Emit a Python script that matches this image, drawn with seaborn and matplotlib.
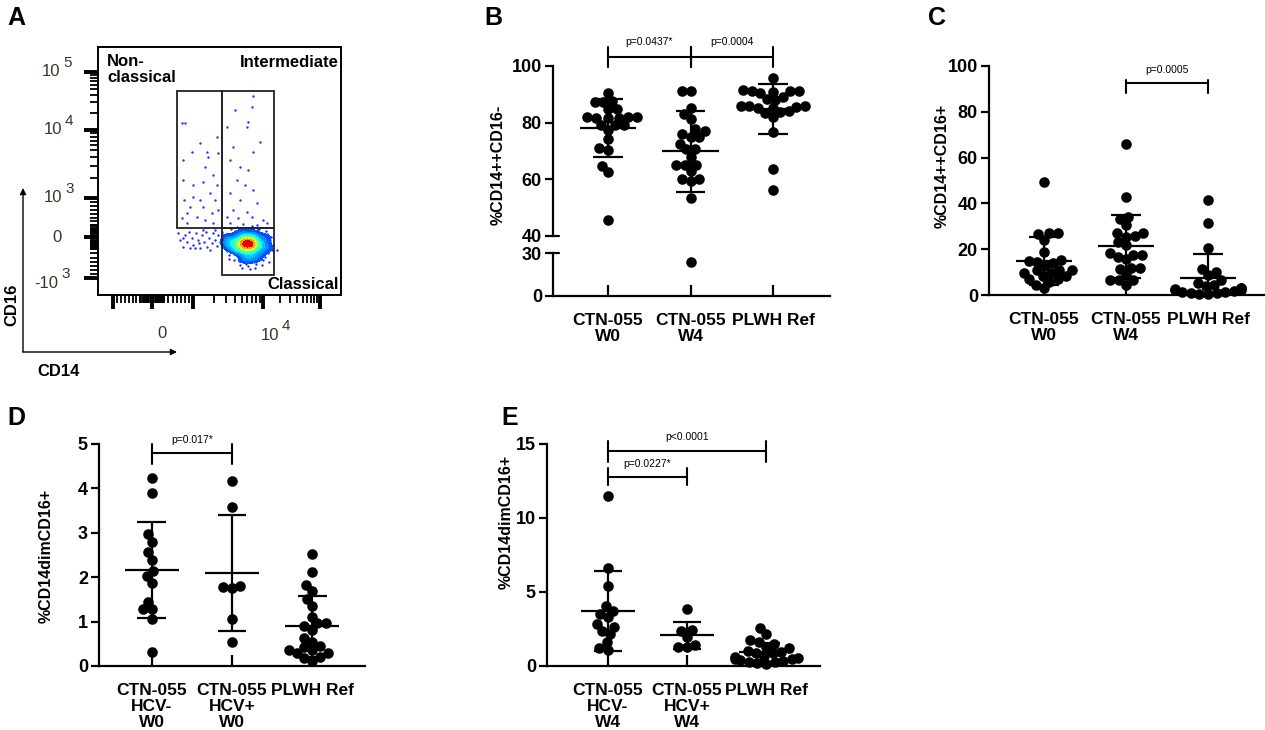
# monocyte subset figure: flow gate (A) and four dot plots with mean +/- SD (B-E)

import numpy as np
import pandas as pd
import matplotlib
matplotlib.use('Agg')
from matplotlib import pyplot as plt
from matplotlib import transforms
from matplotlib.patches import Rectangle
from matplotlib.colors import ListedColormap
import seaborn as sns

W, H = 1265, 730

# --- data ---
groups_bc = ['CTN-055\nW0', 'CTN-055\nW4', 'PLWH Ref']
groups_d = ['CTN-055\nHCV-\nW0', 'CTN-055\nHCV+\nW0', 'PLWH Ref']
groups_e = ['CTN-055\nHCV-\nW4', 'CTN-055\nHCV+\nW4', 'PLWH Ref']

# B: %CD14++CD16-
b_w0 = [90.4, 87.2, 87.2, 87.6, 84.8, 84.7, 82.0, 81.5, 82.0, 81.8, 81.5, 82.0,
        79.2, 79.0, 79.3, 77.4, 74.1, 71.0, 70.5, 64.7, 62.7, 45.6]
b_w4 = [91.2, 91.2, 85.3, 83.1, 81.3, 77.6, 77.1, 75.0, 75.0, 75.9, 72.4, 70.6,
        70.6, 68.0, 65.1, 65.1, 65.1, 62.9, 60.0, 60.0, 59.4, 53.3, 23.5]
b_ref = [95.7, 91.5, 91.0, 90.8, 91.2, 90.5, 91.0, 89.0, 88.5, 88.0, 86.0, 85.5,
         85.8, 85.2, 85.0, 86.0, 83.8, 83.5, 84.0, 82.1, 76.8, 63.6, 56.2]

# C: %CD14++CD16+
c_w0 = [49.5, 26.9, 26.9, 26.5, 24.0, 18.6, 15.0, 15.3, 14.6, 13.8, 12.5, 10.9,
        10.9, 10.9, 9.5, 9.5, 8.3, 8.3, 6.8, 6.8, 4.4, 5.8, 2.9]
c_w4 = [65.8, 42.9, 33.0, 34.2, 30.4, 26.9, 26.9, 25.5, 25.8, 21.8, 23.3, 18.2,
        17.5, 17.5, 15.6, 16.7, 11.2, 11.9, 11.6, 8.7, 6.6, 6.6, 6.6, 4.4]
c_ref = [41.5, 31.6, 20.4, 11.2, 10.0, 8.7, 6.5, 5.2, 4.5, 3.8, 3.0, 3.0, 2.5,
         2.2, 2.0, 1.8, 1.5, 1.2, 1.0, 0.5, 0.8, 0.3]

# D: %CD14dimCD16+ at W0
d_neg = [4.23, 3.89, 2.97, 2.80, 2.56, 2.39, 2.15, 2.03, 1.88, 1.45, 1.28, 1.28, 1.06, 0.32]
d_pos = [4.17, 3.57, 1.79, 1.81, 1.76, 1.05, 0.55]
d_ref = [2.52, 2.11, 1.82, 1.69, 1.51, 1.36, 1.11, 0.96, 0.89, 0.96, 0.81, 0.62,
         0.55, 0.36, 0.42, 0.36, 0.45, 0.17, 0.21, 0.29, 0.29, 0.12]

# E: %CD14dimCD16+ at W4
e_neg = [11.5, 6.64, 5.43, 4.08, 3.74, 3.51, 3.29, 2.84, 2.39, 2.66, 2.16, 1.64, 1.08, 1.19]
e_pos = [3.83, 2.43, 2.36, 1.98, 1.26, 1.42, 1.26]
e_ref = [2.55, 2.16, 1.76, 1.60, 1.50, 1.30, 1.20, 1.00, 0.95, 0.90, 0.85, 0.70,
         0.60, 0.55, 0.50, 0.45, 0.40, 0.35, 0.30, 0.25, 0.20, 0.15]

# A: flow events in display channels (CD14 on x, CD16 on y)
sparse_cd14 = [83.7, 87.0, 84.7, 84.7, 86.3, 88.7, 93.7, 95.3, 102.0, 104.7, 107.0, 108.7,
               110.3, 112.0, 115.3, 117.0, 118.7, 120.3, 120.3, 102.0, 92.0, 98.7, 107.0,
               115.3, 88.7, 83.7, 95.3, 105.3, 113.7, 118.7,
               155.3, 137.0, 153.7, 128.7, 150.3, 148.7, 135.3, 162.0, 155.3, 132.0, 142.0,
               150.3, 138.7, 146.7, 155.3, 132.0, 142.0, 158.7, 135.3, 148.7, 128.7, 140.3,
               153.7, 165.3, 132.0, 145.3, 158.7, 168.7,
               80.3, 82.0, 84.7, 87.0, 88.7, 91.3, 93.7, 95.3, 98.0, 100.3, 102.0, 103.7,
               106.0, 108.0, 109.3, 111.3, 113.7, 115.3, 117.0, 118.7, 120.3, 122.0, 123.7,
               84.7, 97.0, 112.0, 105.3, 92.0, 117.0, 101.3,
               128.0, 126.0, 131.0, 136.0, 142.0, 150.0, 158.0, 165.0, 170.0, 172.0, 168.0,
               160.0, 137.0, 129.0, 134.0, 163.0, 167.0, 140.0, 175.0, 127.0, 179.0, 157.0,
               125.0, 133.0, 139.0, 146.0, 154.0, 161.0, 169.0, 174.0, 171.0, 164.0, 152.0,
               144.0, 131.0, 127.0, 136.0, 166.0, 173.0, 148.0, 156.0, 141.0]
sparse_cd16 = [171.7, 172.3, 135.0, 115.0, 95.0, 81.7, 143.3, 110.0, 151.7, 113.3, 128.3, 143.3,
               138.3, 101.7, 120.0, 95.0, 158.3, 141.7, 85.0, 95.0, 88.3, 78.3, 75.0,
               71.7, 71.7, 76.7, 98.3, 88.3, 81.7, 110.0,
               199.0, 185.0, 188.3, 168.3, 173.3, 168.3, 148.3, 153.3, 143.3, 135.0, 128.3,
               125.0, 115.0, 110.0, 105.0, 101.7, 95.0, 91.7, 85.0, 83.3, 78.3, 76.7,
               78.3, 75.0, 71.7, 71.0, 70.0, 71.7,
               61.7, 55.0, 48.3, 60.0, 53.3, 63.3, 56.7, 50.0, 61.7, 55.0, 46.7, 60.0,
               53.3, 63.3, 48.3, 57.3, 51.7, 61.7, 55.3, 49.0, 60.0, 53.3, 63.3,
               57.3, 46.7, 45.0, 65.0, 46.7, 65.0, 51.7,
               60.0, 50.0, 40.0, 35.0, 30.0, 29.0, 31.0, 35.0, 42.0, 55.0, 64.0,
               66.0, 64.0, 44.0, 62.0, 61.0, 38.0, 38.0, 50.0, 57.0, 45.0, 27.0,
               54.0, 66.0, 68.0, 67.0, 69.0, 66.0, 61.0, 45.0, 33.0, 30.0, 26.0,
               27.0, 36.0, 47.0, 41.0, 48.0, 58.0, 31.0, 33.0, 34.0]
core_cd14 = [150, 148, 152, 146, 154, 149, 144, 156, 151, 147, 140, 160, 153, 142, 157,
             145, 135, 165, 150, 138, 162, 130, 168, 155, 143, 132, 158, 146, 128, 170,
             150, 149, 151, 148, 152]
core_cd16 = [52, 50, 49, 53, 54, 47, 50, 50, 56, 44, 52, 48, 43, 46, 57,
             58, 54, 52, 38, 45, 42, 58, 58, 62, 62, 48, 36, 35, 52, 47,
             52, 51, 50, 53, 52]

# --- style ---
sns.set_style('white')
plt.rcParams['font.family'] = ['Liberation Sans', 'DejaVu Sans']
plt.rcParams['font.weight'] = 'bold'
plt.rcParams['axes.linewidth'] = 1.6
plt.rcParams['axes.edgecolor'] = 'black'
plt.rcParams['text.color'] = 'black'
plt.rcParams['xtick.color'] = 'black'
plt.rcParams['ytick.color'] = 'black'

fig = plt.figure(figsize=(W / 100, H / 100), dpi=100)
swarms = []


def add_ax(x0, y0, x1, y1):
    return fig.add_axes([x0 / W, 1 - y1 / H, (x1 - x0) / W, (y1 - y0) / H])


def dot_panel(ax, values, labels, ylim, yticks, xlim, clip=False):
    names = [f'g{i}' for i in range(len(values))]
    df = pd.DataFrame({'grp': np.repeat(names, [len(v) for v in values]),
                       'val': np.concatenate(values)})
    n0 = len(ax.collections)
    sns.swarmplot(data=df, x='grp', y='val', order=names, color='black', size=5.6,
                  linewidth=0.4, edgecolor='black', warn_thresh=1,
                  ax=ax, zorder=3)
    for coll in ax.collections[n0:]:
        swarms.append(coll)
        if not clip:
            coll.set_clip_on(False)
    for i, v in enumerate(values):
        m, sd = np.mean(v), np.std(v, ddof=1)
        ax.hlines(m, i - 0.34, i + 0.34, color='black', lw=1.6, zorder=4)
        ax.vlines(i, m - sd, m + sd, color='black', lw=1.6, zorder=4)
        ax.hlines([m - sd, m + sd], i - 0.18, i + 0.18, color='black', lw=1.6, zorder=4)
    ax.set_ylim(*ylim)
    ax.set_yticks(yticks)
    ax.set_xlim(*xlim)
    ax.set_xticks(range(len(values)))
    ax.set_xticklabels(labels, fontsize=12.5, fontweight='bold', linespacing=1.1)
    ax.tick_params(axis='x', direction='in', length=8, width=1.6, pad=12, bottom=True)
    ax.tick_params(axis='y', direction='out', length=6, width=1.6, pad=2, left=True,
                   labelsize=13)
    sns.despine(ax=ax)
    ax.set_xlabel('')
    ax.set_ylabel('')
    ax.patch.set_alpha(0)


def bracket(ax, x0, x1, y, lo, hi, text, ty):
    kw = dict(color='black', lw=1.5, clip_on=False, zorder=5)
    ax.plot([x0, x1], [y, y], **kw)
    ax.plot([x0, x0], [lo, hi], **kw)
    ax.plot([x1, x1], [lo, hi], **kw)
    ax.text((x0 + x1) / 2, ty, text, ha='center', va='center', fontsize=7.5,
            fontweight='normal')


# --- B (broken axis) ---
b_vals = [b_w0, b_w4, b_ref]
ax_bu = add_ax(553, 66, 830, 236)
ax_bl = add_ax(553, 253, 830, 296)
dot_panel(ax_bu, b_vals, groups_bc, (40, 100), [40, 60, 80, 100], (-0.667, 2.69), clip=True)
dot_panel(ax_bl, b_vals, groups_bc, (0, 30), [0, 30], (-0.667, 2.69), clip=True)
ax_bu.spines['bottom'].set_visible(False)
ax_bu.tick_params(axis='x', bottom=False, labelbottom=False)
for a, yv in ((ax_bu, 40), (ax_bl, 30)):
    tr = transforms.blended_transform_factory(a.transAxes, a.transData)
    a.plot([0, 0.02], [yv, yv], color='black', lw=1.6, transform=tr, clip_on=False)
bracket(ax_bu, 0, 1, 103.2, 99.6, 106.7, 'p=0.0437*', 108.3)
bracket(ax_bu, 1, 2, 103.2, 99.6, 106.7, 'p=0.0004', 108.3)

# --- C ---
ax_c = add_ax(989, 66, 1265, 295)
dot_panel(ax_c, [c_w0, c_w4, c_ref], groups_bc, (0, 100), [0, 20, 40, 60, 80, 100], (-0.67, 2.695))
bracket(ax_c, 1, 2, 92.4, 88.1, 93.9, 'p=0.0005', 98.3)

# --- D ---
ax_d = add_ax(99, 444, 365, 666)
dot_panel(ax_d, [d_neg, d_pos, d_ref], groups_d, (0, 5), [0, 1, 2, 3, 4, 5], (-0.66, 2.66))
bracket(ax_d, 0, 1, 4.79, 4.56, 5.01, 'p=0.017*', 5.1)

# --- E ---
ax_e = add_ax(547, 444, 820, 666)
dot_panel(ax_e, [e_neg, e_pos, e_ref], groups_e, (0, 15), [0, 5, 10, 15], (-0.77, 2.68))
bracket(ax_e, 0, 2, 14.55, 13.8, 15.2, 'p<0.0001', 15.45)
bracket(ax_e, 0, 1, 12.8, 12.2, 13.4, 'p=0.0227*', 13.65)

# --- A (flow plot) ---
ax_a = add_ax(98, 47, 341, 295)
flow_cmap = ListedColormap(plt.get_cmap('jet')(np.linspace(0.18, 1.0, 256)))
ax_a.scatter(sparse_cd14, sparse_cd16, s=3, color='#2a2aff', linewidths=0, zorder=2)
sns.kdeplot(x=core_cd14, y=core_cd16, fill=True, cmap=flow_cmap, levels=9,
            thresh=0.08, bw_adjust=1.0, ax=ax_a, zorder=3)
ax_a.scatter(core_cd14, core_cd16, s=3, color='#2a2aff', linewidths=0, zorder=2)
for (x0, y0, w, h) in ((79, 67, 45, 137), (124, 67, 52, 137), (124, 20, 52, 47)):
    ax_a.add_patch(Rectangle((x0, y0), w, h, fill=False, edgecolor='#222222', lw=1.3, zorder=4))
ax_a.set_xlim(0, 243)
ax_a.set_ylim(0, 248)
ax_a.set_xlabel('')
ax_a.set_ylabel('')
for sp in ax_a.spines.values():
    sp.set_visible(True)
    sp.set_linewidth(1.4)


def biex(vals, anchors):
    out = []
    for v in vals:
        if abs(v) <= 1000:
            out.append(np.interp(v, [-1000, 0, 1000], anchors[:3]))
        else:
            out.append(np.interp(np.log10(v), [3, 4, 5], anchors[2:]))
    return out


y_anchor = [17, 58, 97, 165, 223]
x_anchor = [15, 54, 95, 165, 222]
major_v = [-1000, 0, 1000, 1e4, 1e5]
minor_v = (list(np.arange(-1000, 1001, 100)) + list(np.arange(-300, 301, 30))
           + [k * 10 ** d for d in (3, 4) for k in range(2, 10)] + [2e5])
ax_a.set_yticks(biex(major_v, y_anchor))
ax_a.set_yticks(biex(minor_v, y_anchor), minor=True)
ax_a.set_xticks(biex(major_v, x_anchor))
ax_a.set_xticks(biex(minor_v, x_anchor), minor=True)
ax_a.tick_params(which='major', direction='out', length=10, width=2.8, left=True,
                 bottom=True, labelleft=False, labelbottom=False)
ax_a.tick_params(which='minor', direction='out', length=5.5, width=1.3, left=True, bottom=True)

# --- overlay for labels, arrows ---
ov = fig.add_axes([0, 0, 1, 1], zorder=10)
ov.set_xlim(0, W)
ov.set_ylim(H, 0)
ov.axis('off')

for x, y, s in ((16, 18, 'A'), (493, 18, 'B'), (937, 18, 'C'), (16, 418, 'D'), (510, 418, 'E')):
    ov.text(x, y, s, fontsize=18, fontweight='bold', ha='center', va='center')

ylab = dict(rotation=90, fontsize=11.5, fontweight='bold', ha='center', va='center')
ov.text(498, 165, '%CD14++CD16-', **ylab)
ov.text(942, 166, '%CD14++CD16+', **ylab)
ov.text(46, 556, '%CD14dimCD16+', **ylab)
ov.text(506, 522, '%CD14dimCD16+', **ylab)

# flow axis tick labels
tcol = '#3a3526'
def pow_label(xr, y, base, exp):
    ov.text(xr, y, base, ha='right', va='center', fontsize=12, fontweight='normal', color=tcol)
    ov.text(xr + 3, y - 9, exp, ha='left', va='center', fontsize=11, fontweight='normal', color=tcol)

pow_label(60, 72, '10', '5')
pow_label(62, 130, '10', '4')
pow_label(62, 198, '10', '3')
ov.text(57, 237, '0', ha='center', va='center', fontsize=12, fontweight='normal', color=tcol)
pow_label(58, 283, '-10', '3')
ov.text(162, 333, '0', ha='center', va='center', fontsize=12, fontweight='normal', color=tcol)
pow_label(279, 335, '10', '4')

gate = dict(fontsize=12, fontweight='bold')
ov.text(107, 54, 'Non-\nclassical', ha='left', va='top', linespacing=1.1, **gate)
ov.text(339, 55, 'Intermediate', ha='right', va='top', **gate)
ov.text(339, 292, 'Classical', ha='right', va='bottom', **gate)

arrow = dict(arrowstyle='-|>', lw=1.0, color='black', mutation_scale=9, shrinkA=0, shrinkB=0)
ov.annotate('', xy=(23, 188), xytext=(23, 352), arrowprops=arrow)
ov.annotate('', xy=(177, 352), xytext=(23, 352), arrowprops=arrow)
ov.text(12, 305, 'CD16', rotation=90, ha='center', va='center', fontsize=12, fontweight='bold')
ov.text(59, 372, 'CD14', ha='center', va='center', fontsize=12, fontweight='bold')

# lay the swarms out once, then freeze them and fatten the dots so they overlap
fig.canvas.draw()
for coll in swarms:
    if 'draw' in coll.__dict__:
        del coll.draw
    coll.set_linewidth(2.0)

fig.savefig('out.png', dpi=100)
